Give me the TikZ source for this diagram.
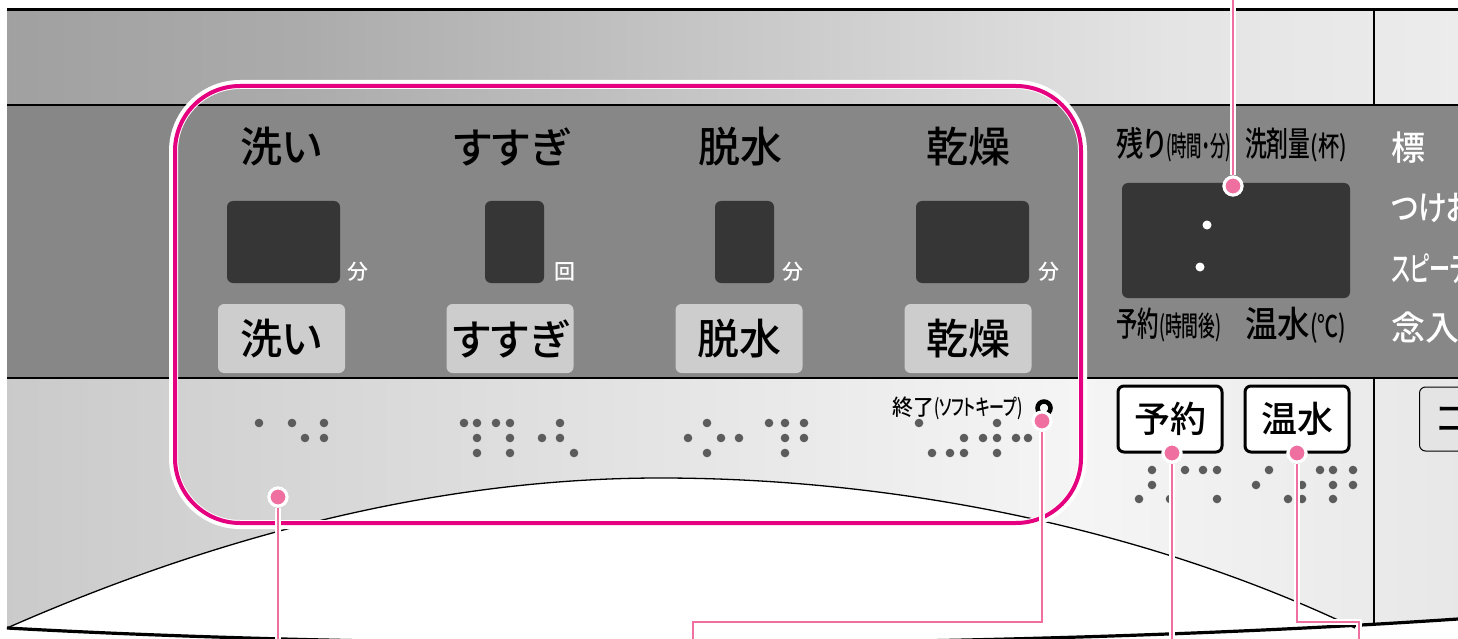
\documentclass[tikz,border=0pt]{standalone}
\usepackage{fontspec}
\newfontfamily\jp[RawFeature={+palt}, BoldFont={Noto Sans CJK JP Medium}]{Noto Sans CJK JP}
\definecolor{mag}{HTML}{E4007F}
\definecolor{lpink}{HTML}{EE6FA0}
\definecolor{band}{HTML}{878787}
\definecolor{lcd}{HTML}{363636}
\definecolor{btn}{HTML}{CDCDCD}
\definecolor{bdot}{HTML}{5C5C5C}
\definecolor{uA}{HTML}{868686}
\definecolor{uB}{HTML}{ABABAB}
\definecolor{uC}{HTML}{E4E4E4}
\definecolor{uD}{HTML}{F8F8F8}
\definecolor{lA}{HTML}{ADADAD}
\definecolor{lB}{HTML}{D6D6D6}
\definecolor{lC}{HTML}{F5F5F5}
\definecolor{lD}{HTML}{E2E2E2}
\definecolor{lE}{HTML}{D3D3D3}
\pgfdeclarehorizontalshading{uppershade}{100bp}{color(0bp)=(uA); color(35bp)=(uB); color(65bp)=(uC); color(90bp)=(uD); color(100bp)=(uD)}
\pgfdeclarehorizontalshading{lowershade}{100bp}{color(0bp)=(lA); color(35bp)=(lB); color(62bp)=(lC); color(80bp)=(lD); color(100bp)=(lE)}
\newcommand{\cond}[3]{\scalebox{#1}[1]{\fontsize{#2}{#2}\selectfont #3}}
\begin{document}
\begin{tikzpicture}[x=1pt,y=-1pt,
  lcdbox/.style={fill=lcd, rounded corners=6pt, inner sep=0pt},
  btnbox/.style={fill=btn, rounded corners=6pt, inner sep=0pt, minimum width=127pt, minimum height=69pt},
  biglab/.style={inner sep=0pt, font=\jp\bfseries\fontsize{42}{42}\selectfont},
  unitlab/.style={inner sep=0pt, text=white, font=\jp\bfseries\fontsize{21}{21}\selectfont},
  smalllab/.style={inner sep=0pt, anchor=west, font=\jp\bfseries},
  wbtn/.style={fill=white, draw=black, line width=3pt, rounded corners=6pt, minimum width=104pt, minimum height=66pt, inner sep=0pt, font=\jp\bfseries\fontsize{36}{36}\selectfont},
  sidelab/.style={inner sep=0pt, anchor=west, text=white, font=\jp\bfseries\fontsize{34}{34}\selectfont},
  pdot/.style={circle, fill=lpink, draw=white, line width=3pt, minimum size=18pt, inner sep=0pt},
  leader/.style={draw=lpink, line width=2.5pt, preaction={draw=white, line width=6pt}},
  edge/.style={draw=black, line width=1.2pt}]
\useasboundingbox (0,0) rectangle (1458,639);
% background
\fill[white] (0,0) rectangle (1458,639);
% upper strip
\shade[shading=uppershade] (7,10) rectangle (1458,105);
% middle band
\fill[band] (7,105) rectangle (1458,378);
% lower strip
\shade[shading=lowershade] (7,378) rectangle (1458,640);
% door opening (white)
\fill[white] (7,628) .. controls (230,530) and (450,478) .. (660,478)
  .. controls (900,478) and (1150,530) .. (1355,628) -- (1458,619) -- (1458,645) -- (7,645) -- cycle;
\draw[black, line width=1.3pt] (7,628) .. controls (230,530) and (450,478) .. (660,478)
  .. controls (900,478) and (1150,530) .. (1355,628);
% bottom edge
\draw[black, line width=3.2pt] (7,628) .. controls (400,650) and (1000,650) .. (1458,619);
% frame lines
\draw[black, line width=3pt] (7,10) -- (1458,10);
\draw[edge] (7,105) -- (1458,105);
\draw[edge] (7,378) -- (1458,378);
\draw[edge] (1374,10) -- (1374,105);
\draw[edge] (1374,378) -- (1374,625);
% highlighted area
\draw[white, line width=6pt, rounded corners=65pt] (175,86) rectangle (1081,523);
\draw[white, line width=6pt, rounded corners=68pt] (172,83) rectangle (1084,526);
\draw[mag, line width=4pt, rounded corners=65pt] (175,86) rectangle (1081,523);
% column labels
\node[biglab] (tWash) at (281,147) {洗い};
\node[biglab] (tRinse) at (511,147) {すすぎ};
\node[biglab] (tSpin) at (740,147) {脱水};
\node[biglab] (tDry) at (968,147) {乾燥};
% displays
\node[lcdbox, minimum width=113pt, minimum height=82pt] (dWash) at (283.5,242) {};
\node[lcdbox, minimum width=59pt, minimum height=82pt] (dRinse) at (514.5,242) {};
\node[lcdbox, minimum width=59pt, minimum height=82pt] (dSpin) at (744.5,242) {};
\node[lcdbox, minimum width=113pt, minimum height=82pt] (dDry) at (972.5,242) {};
\node[unitlab] (uWash) at (358,272) {分};
\node[unitlab] (uRinse) at (565,272) {回};
\node[unitlab] (uSpin) at (793,272) {分};
\node[unitlab] (uDry) at (1049,272) {分};
% buttons
\node[btnbox, biglab] (bWash) at (281.5,338.5) {洗い};
\node[btnbox, biglab] (bRinse) at (510,338.5) {すすぎ};
\node[btnbox, biglab] (bSpin) at (739,338.5) {脱水};
\node[btnbox, biglab] (bDry) at (968,338.5) {乾燥};
% braille
\foreach \x/\y in {259/423,292/423,324/423,305/438,324/438,
  464/423,477/423,496/423,510/423,560/423,477/438,510/438,542/438,560/438,477/453,510/453,574/453,
  707/423,769/423,785/423,804/423,688/438,721/438,739/438,785/438,804/438,707/453,785/453,
  919/423,997/423,964/438,983/438,997/438,1016/438,1028/438,932/453,950/453,964/453,997/453,
  1152/470,1185/470,1203/470,1217/470,1152/485,1139/499,1170/499,1217/499,
  1269/470,1320/470,1333/470,1353/470,1256/485,1302/485,1333/485,1353/485,1288/499,1302/499,1333/499}
  \fill[bdot] (\x,\y) circle (4.3pt);
% keep-warm label
\node[smalllab] (tEnd) at (892,408) {\cond{0.95}{22}{終了}\cond{0.68}{22}{(ソフトキープ)}};
\draw[black, line width=4.5pt] (1044,408) circle (6.5pt);
% right display
\node[smalllab] (tRemain) at (1116,145) {\cond{0.8}{34}{残り}\cond{0.55}{28}{(時間・分)}};
\node[smalllab] (tDet) at (1245,145) {\cond{0.64}{34}{洗剤量}\cond{0.76}{28}{(杯)}};
\node[lcdbox, minimum width=228pt, minimum height=115pt] (dMain) at (1236,240.5) {};
\fill[white] (1207,225) circle (4.5pt);
\fill[white] (1200,267) circle (4.5pt);
\node[smalllab] (tRes) at (1116,325) {\cond{0.63}{34}{予約}\cond{0.6}{28}{(時間後)}};
\node[smalllab] (tHot) at (1245,325) {\cond{0.9}{36}{温水}\cond{0.7}{30}{(℃)}};
% side menu
\node[sidelab] (sStd) at (1391,148) {標　準};
\node[sidelab] (sSoak) at (1391,208) {\scalebox{0.85}[1]{つけおき}};
\node[sidelab] (sSpeedy) at (1391,268) {\scalebox{0.62}[1]{スピーディ}};
\node[sidelab] (sCare) at (1391,328) {念入り};
% white buttons
\node[wbtn] (bRes) at (1170,419) {予約};
\node[wbtn] (bHot) at (1297,419) {温水};
\node[fill=btn!55!white, draw=black, line width=1pt, rounded corners=6pt, minimum width=70pt, minimum height=64pt, inner sep=0pt, anchor=west, font=\jp\bfseries\fontsize{35}{35}\selectfont] (bCourse) at (1419,419) {\hspace*{17pt}コース};
% callout dots
\node[pdot] (pWash) at (278,497) {};
\node[pdot] (pEnd) at (1042,421) {};
\node[pdot] (pRes) at (1172,453) {};
\node[pdot] (pHot) at (1297,453) {};
\node[pdot] (pMain) at (1233,186) {};
% leader ends
\coordinate (eWash) at (278,641);
\coordinate (kEnd) at (693,622);
\coordinate (eEnd) at (693,641);
\coordinate (eRes) at (1172,641);
\coordinate (kHot) at (1359,622);
\coordinate (eHot) at (1359,641);
\coordinate (eMain) at (1233,-2);
\draw[leader] (pWash) -- (eWash);
\draw[leader] (pEnd) |- (kEnd) -- (eEnd);
\draw[leader] (pRes) -- (eRes);
\draw[leader] (pHot) |- (kHot) -- (eHot);
\draw[leader] (pMain) -- (eMain);
% redraw dots over leader halos
\node[pdot] at (pWash) {};
\node[pdot] at (pEnd) {};
\node[pdot] at (pRes) {};
\node[pdot] at (pHot) {};
\node[pdot] at (pMain) {};
\end{tikzpicture}
\end{document}
